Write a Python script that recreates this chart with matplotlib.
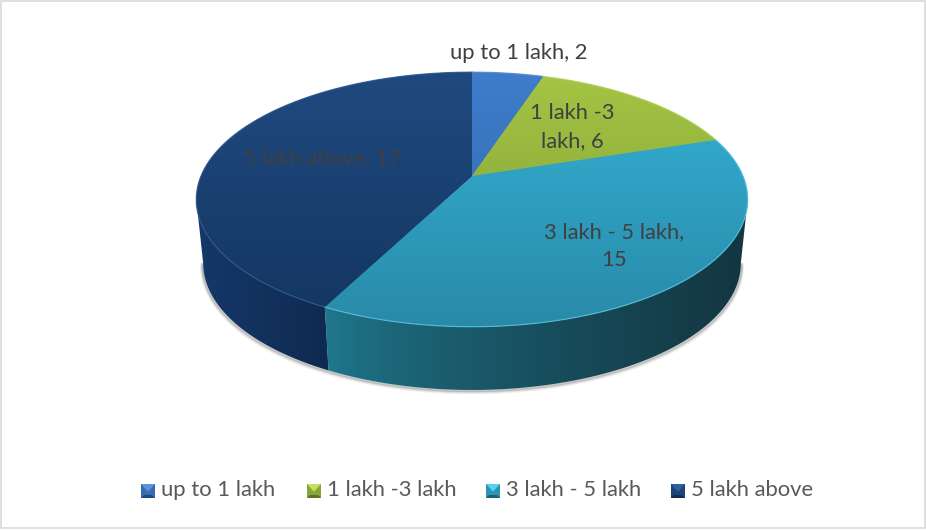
import numpy as np
import matplotlib
matplotlib.use("Agg")
import matplotlib.pyplot as plt
from matplotlib.colors import LinearSegmentedColormap
from matplotlib.patches import Polygon, Rectangle

categories = ["up to 1 lakh", "1 lakh -3 lakh", "3 lakh - 5 lakh", "5 lakh above"]
values = [2, 6, 15, 17]
data_labels = ["up to 1 lakh, 2", "1 lakh -3\nlakh, 6", "3 lakh - 5 lakh,\n15", "5 lakh above, 17"]
label_xy = [(519, 53), (572, 127), (614, 246), (322, 158)]
top_colors = [("#3f7cca", "#2f66ad"), ("#a4c544", "#7d9a36"), ("#34b2d6", "#298aa8"), ("#1f4a80", "#143560")]
rim_colors = ["#5a90d8", "#b5d45a", "#58c4de", "#2f5c92"]
side_colors = [("#2a5a96", "#1f4674"), ("#5f7528", "#4f6120"), ("#20798f", "#133641"), ("#15386a", "#0f2a50")]
legend_colors = [("#5b94dc", "#3a6cb0", "#1f4a80"), ("#c3e05a", "#88a63a", "#5a7025"),
                 ("#55d0ee", "#2d93b0", "#1a6278"), ("#2f5f9c", "#1c4478", "#102c54")]
legend_x = [141, 307, 486, 671]

CX, CY, B, A, K = 472, 176, 271, 123, 0.184
DEPTH, SHRINK = 64, 0.975
# clockwise angles where the projected rim reaches its widest points
T_RIGHT, T_LEFT = np.arccos(-K), 2 * np.pi - np.arccos(-K)

def project(t):
    u, v = np.sin(t), np.cos(t)
    d = 1 + K * v
    return B * u / d, -A * v / d

def top_pts(t):
    X, Y = project(t)
    return CX + X, CY + Y

def bot_pts(t):
    X, Y = project(t)
    return CX + X * SHRINK, CY + Y * 0.995 + DEPTH

fig = plt.figure(figsize=(9.26, 5.30), dpi=100)
ax = fig.add_axes([0, 0, 1, 1])
ax.set_xlim(0, 926)
ax.set_ylim(530, 0)
ax.axis("off")
ax.add_patch(Rectangle((0.5, 0.5), 924, 527.5, fc="white", ec="#d9d9d9", lw=1.2, zorder=0))

edges = np.radians(np.concatenate([[0], np.cumsum(values)]) * 360 / sum(values))

# soft shadow under the bottom rim
tt = np.linspace(T_RIGHT, T_LEFT, 300)
bx, by = bot_pts(tt)
for off, alpha in [(3.0, .05), (2.2, .08), (1.4, .12), (.7, .18)]:
    ax.plot(bx + np.sign(bx - CX) * off * .6, by + off, color="#404040", alpha=alpha, lw=2, zorder=1)

# side wall: one clipped horizontal gradient per slice
for i in range(len(values)):
    lo, hi = max(edges[i], T_RIGHT), min(edges[i + 1], T_LEFT)
    if hi <= lo:
        continue
    steps = np.linspace(lo, hi, 200)
    xt, yt = top_pts(steps)
    xb, yb = bot_pts(steps)
    pts = np.vstack([np.column_stack([xt, yt]), np.column_stack([xb, yb])[::-1]])
    poly = Polygon(pts, closed=True, fc="none", ec="none", zorder=2)
    ax.add_patch(poly)
    ramp = np.linspace(0, 1, 256) ** (0.7 if i == 2 else 1.0)
    cmap = LinearSegmentedColormap.from_list(f"s{i}", side_colors[i])
    im = ax.imshow(ramp.reshape(1, -1), cmap=cmap, vmin=0, vmax=1,
                   extent=(pts[:, 0].min(), pts[:, 0].max(), 400, 60), aspect="auto", zorder=2)
    im.set_clip_path(poly)

# top face with vertical gradient
grad = np.linspace(0, 1, 256).reshape(-1, 1)
for i in range(len(values)):
    steps = np.linspace(edges[i], edges[i + 1], 200)
    xa, ya = top_pts(steps)
    poly = Polygon(np.vstack([[CX, CY], np.column_stack([xa, ya])]), closed=True,
                   fc=top_colors[i][1], ec="none", zorder=3)
    ax.add_patch(poly)
    cmap = LinearSegmentedColormap.from_list(f"g{i}", top_colors[i])
    im = ax.imshow(grad, cmap=cmap, extent=(190, 755, 327, 72), aspect="auto", zorder=3.1)
    im.set_clip_path(poly)
    ax.plot(xa, ya, color=rim_colors[i], lw=0.9, alpha=.8, zorder=3.2)

ax.set_xlim(0, 926)
ax.set_ylim(530, 0)

FONT = "Lato"
TXT = "#404040"
for s, (x, y) in zip(data_labels, label_xy):
    ax.text(x, y, s, ha="center", va="center", fontsize=15.8, family=FONT, color=TXT,
            linespacing=1.5, zorder=5)

# legend
SZ = 14
for name, x, (lt, mid, dk) in zip(categories, legend_x, legend_colors):
    y0 = 484
    ax.add_patch(Rectangle((x, y0), SZ, SZ, fc=mid, ec="none", zorder=4))
    ax.add_patch(Polygon([(x, y0), (x + SZ, y0), (x + SZ / 2, y0 + SZ * .55)], fc=lt, ec="none", zorder=4.1))
    ax.add_patch(Polygon([(x, y0 + SZ), (x + SZ, y0 + SZ), (x + SZ - 3, y0 + SZ - 3), (x + 3, y0 + SZ - 3)],
                         fc=dk, ec="none", zorder=4.1))
    ax.text(x + 20, y0 + 5.5, name, ha="left", va="center", fontsize=15.8, family=FONT, color="#595959", zorder=5)

fig.savefig("out.png", dpi=100)
